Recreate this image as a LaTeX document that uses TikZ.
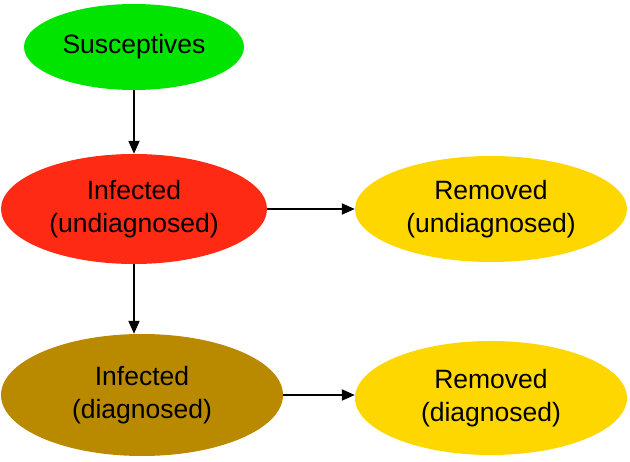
\documentclass[tikz,border=0pt]{standalone}
\usepackage{fontspec}
\setmainfont{Liberation Sans}
\usetikzlibrary{shapes.geometric,arrows.meta}

\definecolor{suscgreen}{HTML}{00E400}
\definecolor{infred}{HTML}{FF2A14}
\definecolor{remgold}{HTML}{FFD700}
\definecolor{diaggold}{HTML}{B98A00}

\tikzset{
    compartment/.style={ellipse, inner sep=0pt, align=center,
        font=\fontsize{26.5}{33}\selectfont},
    flow/.style={line width=2pt, -{Triangle[length=13pt,width=11pt]}}
}

\begin{document}
\begin{tikzpicture}[x=1pt, y=1pt]

        \useasboundingbox (0, 0) rectangle (630, -462);

        \node[compartment, fill=suscgreen, minimum width=220, minimum height=86] (susc) at (134, -47){Susceptives};
        \node[compartment, fill=infred, minimum width=266, minimum height=110] (infU) at (134, -209){Infected\\(undiagnosed)};
        \node[compartment, fill=remgold, minimum width=272, minimum height=106] (remU) at (491, -209){Removed\\(undiagnosed)};
        \node[compartment, fill=diaggold, minimum width=282, minimum height=122] (infD) at (142, -395){Infected\\(diagnosed)};
        \node[compartment, fill=remgold, minimum width=272, minimum height=114] (remD) at (491, -398){Removed\\(diagnosed)};

        \draw[flow] (susc.south) -- (infU.north);
        \draw[flow] (infU.east) -- (remU.west);
        \draw[flow] (infU.south) -- (infD.north -| infU.south);
        \draw[flow] (infD.east) -- (remD.west |- infD.east);

\end{tikzpicture}
\end{document}
